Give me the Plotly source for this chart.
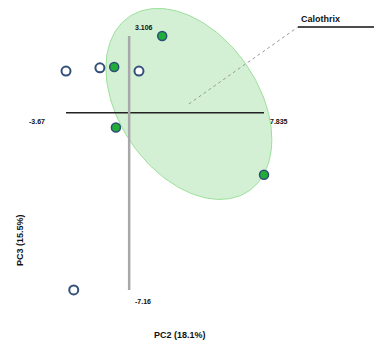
import numpy as np
import plotly.graph_objects as go

# PCA scores (PC2, PC3)
other_pc2 = [-3.67, -1.70, 0.57, -3.22]
other_pc3 = [1.69, 1.82, 1.69, -7.16]
calo_pc2 = [1.92, -0.87, -0.77, 7.835]
calo_pc3 = [3.106, 1.85, -0.59, -2.50]

group_name = "Calothrix"
x_title = "PC2 (18.1%)"
y_title = "PC3 (15.5%)"

# grouping ellipse: centre, spread and correlation in score units
ell_center = (3.47, 0.36)
ell_sd = (4.82, 3.86)
ell_rho = -0.374

all_x = other_pc2 + calo_pc2
all_y = other_pc3 + calo_pc3
xmin, xmax = min(all_x), max(all_x)
ymin, ymax = min(all_y), max(all_y)

W, H = 374, 347
sx, sy = 17.21, 24.74  # pixels per unit
x0 = xmin - 66 / sx
x1 = x0 + W / sx
y1 = ymax + 36 / sy
y0 = y1 - H / sy

fig = go.Figure()

# ellipse outline
t = np.linspace(0, 2 * np.pi, 200)
cov = np.array([[ell_sd[0] ** 2, ell_rho * ell_sd[0] * ell_sd[1]],
                [ell_rho * ell_sd[0] * ell_sd[1], ell_sd[1] ** 2]])
L = np.linalg.cholesky(cov)
pts = L @ np.vstack([np.cos(t), np.sin(t)])
fig.add_trace(go.Scatter(x=ell_center[0] + pts[0], y=ell_center[1] + pts[1],
                         mode="lines", fill="toself",
                         fillcolor="rgba(170,225,170,0.5)",
                         line=dict(color="#9be09b", width=1),
                         hoverinfo="skip", showlegend=False))

# origin cross spanning the score extents
fig.add_trace(go.Scatter(x=[xmin, xmax], y=[0, 0], mode="lines",
                         line=dict(color="#222222", width=1.5),
                         hoverinfo="skip", showlegend=False))
fig.add_trace(go.Scatter(x=[0, 0], y=[ymin, ymax], mode="lines",
                         line=dict(color="#a8a8a8", width=2.5),
                         hoverinfo="skip", showlegend=False))

# leader line to group label
lx = x0 + 298 / sx
ly = y1 - 27 / sy
fig.add_trace(go.Scatter(x=[ell_center[0], lx], y=[ell_center[1], ly], mode="lines",
                         line=dict(color="#999999", width=1, dash="dot"),
                         hoverinfo="skip", showlegend=False))
fig.add_trace(go.Scatter(x=[lx, x1], y=[ly, ly], mode="lines",
                         line=dict(color="#111111", width=1.5),
                         hoverinfo="skip", showlegend=False))

# sample points
fig.add_trace(go.Scatter(x=other_pc2, y=other_pc3, mode="markers",
                         marker=dict(size=9, color="white",
                                     line=dict(color="#34507a", width=2)),
                         showlegend=False))
fig.add_trace(go.Scatter(x=calo_pc2, y=calo_pc3, mode="markers",
                         marker=dict(size=9, color="#1fae3a",
                                     line=dict(color="#2f4f74", width=1.5)),
                         showlegend=False))

font_small = dict(family="Liberation Sans, Arial", size=7, color="#111111")
font_title = dict(family="Liberation Sans, Arial", size=9, color="#111111")

annotations = [
    dict(x=xmin, y=0, text=f"<b>{xmin:g}</b>", xanchor="right", yanchor="middle",
         xshift=-19, yshift=-9, showarrow=False, font=font_small),
    dict(x=xmax, y=0, text=f"<b>{xmax:g}</b>", xanchor="left", yanchor="middle",
         xshift=4, yshift=-9, showarrow=False, font=font_small),
    dict(x=0, y=ymax, text=f"<b>{ymax:g}</b>", xanchor="left", yanchor="middle",
         xshift=4, yshift=9, showarrow=False, font=font_small),
    dict(x=0, y=ymin, text=f"<b>{ymin:g}</b>", xanchor="left", yanchor="middle",
         xshift=4, yshift=-12, showarrow=False, font=font_small),
    dict(x=lx + (x1 - lx) * 0.29, y=ly, text=f"<b>{group_name}</b>",
         xanchor="center", yanchor="bottom", yshift=1, showarrow=False, font=font_title),
    dict(x=180 / W, y=1 - 335 / H, xref="paper", yref="paper", text=f"<b>{x_title}</b>",
         xanchor="center", yanchor="middle", showarrow=False, font=font_title),
    dict(x=20 / W, y=1 - 240 / H, xref="paper", yref="paper", text=f"<b>{y_title}</b>",
         xanchor="center", yanchor="middle", textangle=-90, showarrow=False, font=font_title),
]

fig.update_layout(
    width=W, height=H, autosize=False,
    margin=dict(l=0, r=0, t=0, b=0),
    paper_bgcolor="white", plot_bgcolor="white",
    xaxis=dict(range=[x0, x1], visible=False, fixedrange=True),
    yaxis=dict(range=[y0, y1], visible=False, fixedrange=True),
    annotations=annotations,
)

fig.write_html("out.html")
